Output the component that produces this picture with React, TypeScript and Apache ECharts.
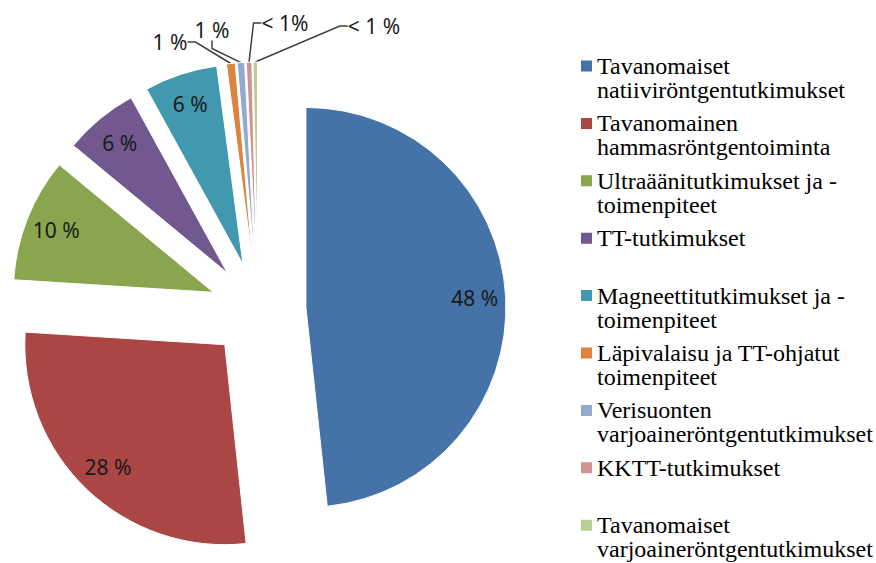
import React, { useEffect, useRef } from "react";
import * as echarts from "echarts";

const categories = [
  "Tavanomaiset natiiviröntgentutkimukset",
  "Tavanomainen hammasröntgentoiminta",
  "Ultraäänitutkimukset ja -toimenpiteet",
  "TT-tutkimukset",
  "Magneettitutkimukset ja -toimenpiteet",
  "Läpivalaisu ja TT-ohjatut toimenpiteet",
  "Verisuonten varjoaineröntgentutkimukset",
  "KKTT-tutkimukset",
  "Tavanomaiset varjoaineröntgentutkimukset",
];

const legendLines = [
  "Tavanomaiset\nnatiiviröntgentutkimukset",
  "Tavanomainen\nhammasröntgentoiminta",
  "Ultraäänitutkimukset ja -\ntoimenpiteet",
  "TT-tutkimukset\n ",
  "Magneettitutkimukset ja -\ntoimenpiteet",
  "Läpivalaisu ja TT-ohjatut\ntoimenpiteet",
  "Verisuonten\nvarjoaineröntgentutkimukset",
  "KKTT-tutkimukset\n ",
  "Tavanomaiset\nvarjoaineröntgentutkimukset",
];

const shares = [48.3, 27.7, 10.0, 6.0, 5.9, 0.7, 0.6, 0.45, 0.35];

const shareLabels = ["48 %", "28 %", "10 %", "6 %", "6 %", "1 %", "1 %", "< 1%", "< 1 %"];

const colors = [
  "#4572A7",
  "#AA4643",
  "#89A54E",
  "#71588F",
  "#4198AF",
  "#DB843D",
  "#93A9CF",
  "#D19392",
  "#B9CD96",
];

// label placement for the thin slices (layout, not data)
const smallLabelPos: [number, number][] = [
  [170, 42],
  [212, 30],
  [285, 23],
  [374, 26],
];

export default function App() {
  const ref = useRef<HTMLDivElement>(null);
  useEffect(() => {
    if (!ref.current) return;
    const chart = echarts.init(ref.current, null, { renderer: "svg" });
    const center = [258, 310];
    const R = 200;
    const offset = 48;
    const labelFont = { fontFamily: "Noto Sans", fontSize: 21, color: "#1a1a1a" };
    const clear = "rgba(0,0,0,0)";

    const mainData = categories.map((name, i) => ({
      name,
      value: shares[i],
      selected: true,
      itemStyle: { color: colors[i] },
    }));
    const insideLabelData = categories.map((name, i) => ({
      name,
      value: shares[i],
      label: { show: i < 5 },
    }));
    const outsideLabelData = categories.map((name, i) => ({
      name,
      value: shares[i],
      label: { show: i >= 5 },
      labelLine: { show: i >= 5 },
    }));

    const common = {
      type: "pie",
      center,
      startAngle: 90,
      clockwise: true,
      avoidLabelOverlap: false,
      emphasis: { disabled: true },
    };

    chart.setOption({
      animation: false,
      backgroundColor: "#ffffff",
      legend: {
        orient: "vertical",
        left: 581,
        top: 54,
        padding: 0,
        itemWidth: 11,
        itemHeight: 48,
        itemGap: 9.4,
        icon: "path://M0,0L0.01,0M0,6.5L11,6.5L11,17.5L0,17.5ZM0,48L0.01,48",
        itemStyle: { borderWidth: 0 },
        selectedMode: false,
        data: categories,
        formatter: (name: string) => legendLines[categories.indexOf(name)],
        textStyle: {
          fontFamily: "Liberation Serif",
          fontSize: 24,
          lineHeight: 24,
          color: "#000",
        },
      },
      series: [
        {
          ...common,
          radius: [0, R],
          selectedMode: "multiple",
          selectedOffset: offset,
          itemStyle: { borderColor: "#ffffff", borderWidth: 1 },
          select: { itemStyle: { borderColor: "#ffffff", borderWidth: 1 } },
          label: { show: false },
          labelLine: { show: false },
          data: mainData,
        },
        {
          ...common,
          radius: [0, 2 * (offset + 166)],
          silent: true,
          itemStyle: { color: clear, borderWidth: 0 },
          labelLine: { show: false },
          label: {
            show: true,
            position: "inside",
            formatter: (p: any) => shareLabels[p.dataIndex],
            ...labelFont,
          },
          data: insideLabelData,
        },
        {
          ...common,
          radius: [0, R + offset],
          silent: true,
          itemStyle: { color: clear, borderWidth: 0 },
          label: {
            show: false,
            position: "outside",
            formatter: (p: any) => shareLabels[p.dataIndex],
            ...labelFont,
          },
          labelLine: {
            show: false,
            length: 12,
            length2: 8,
            lineStyle: { color: "#404040", width: 1.5 },
          },
          labelLayout: (p: any) => {
            const k = p.dataIndex - 5;
            if (k < 0) return {};
            return {
              x: smallLabelPos[k][0],
              y: smallLabelPos[k][1],
              align: "center",
              verticalAlign: "middle",
            };
          },
          data: outsideLabelData,
        },
      ],
    });
    return () => chart.dispose();
  }, []);
  return (
    <div
      ref={ref}
      style={{ position: "fixed", left: 0, top: 0, width: 876, height: 563 }}
    />
  );
}
